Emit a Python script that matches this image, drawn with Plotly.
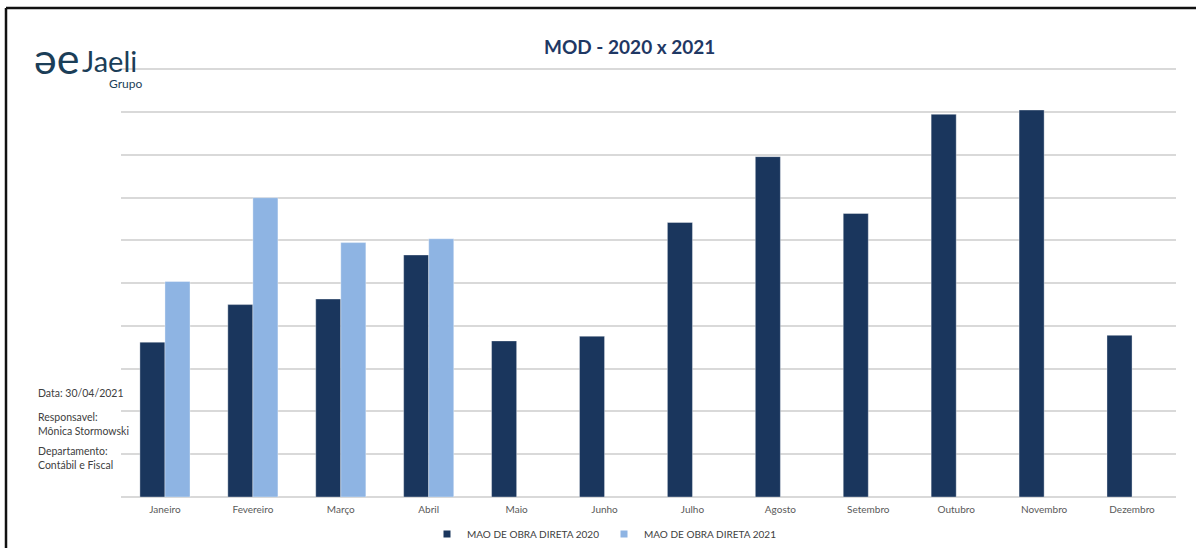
import plotly.graph_objects as go

# Monthly direct labour cost (MOD), in gridline units
meses = ["Janeiro", "Fevereiro", "Março", "Abril", "Maio", "Junho",
         "Julho", "Agosto", "Setembro", "Outubro", "Novembro", "Dezembro"]
mod_2020 = [3.62, 4.50, 4.63, 5.66, 3.65, 3.76, 6.42, 7.96, 6.63, 8.95, 9.05, 3.78]
mod_2021 = [5.04, 7.00, 5.95, 6.04, None, None, None, None, None, None, None, None]

serie_2020 = "MAO DE OBRA DIRETA 2020"
serie_2021 = "MAO DE OBRA DIRETA 2021"

COR_2020 = "#1a365d"
COR_2021 = "#8eb4e3"
FONTE = "Lato"

W, H = 1196, 548
Y_TOP = 10.15                      # a little headroom so the 10 gridline is drawn
L, R, B = 121, 1176, 497
UNIT = (B - 69.5) / 10             # pixels per gridline step
T = B - Y_TOP * UNIT


def px(x):
    return (x - L) / (R - L)


def py(y):
    return (B - y) / (B - T)


fig = go.Figure()
fig.add_trace(go.Bar(x=meses, y=mod_2020, name=serie_2020, showlegend=False,
                     marker=dict(color=COR_2020, line=dict(color="rgba(255,255,255,0.35)", width=1))))
fig.add_trace(go.Bar(x=meses, y=mod_2021, name=serie_2021, showlegend=False,
                     marker=dict(color=COR_2021, line=dict(color="rgba(255,255,255,0.35)", width=1))))

# legend entries with small square swatches
for nome, cor in [(serie_2020, COR_2020), (serie_2021, COR_2021)]:
    fig.add_trace(go.Scatter(x=[None], y=[None], mode="markers", name=nome,
                             marker=dict(symbol="square", size=7, color=cor)))

anotacoes = [
    dict(text="<b>MOD - 2020 x 2021</b>", x=px(629.5), y=py(47), xanchor="center", yanchor="middle",
         font=dict(family=FONTE, size=19, color="#1f3864")),
    dict(text="əe", x=px(81), y=py(58), xanchor="right", yanchor="middle",
         font=dict(family=FONTE, size=43, color="#1b3e58")),
    dict(text="Jaeli", x=px(80), y=py(61), xanchor="left", yanchor="middle",
         font=dict(family=FONTE, size=29, color="#1b3e58")),
    dict(text="Grupo", x=px(125), y=py(84), xanchor="center", yanchor="middle",
         font=dict(family=FONTE, size=12, color="#1b3e58")),
    dict(text="Data: 30/04/2021", x=px(36), y=py(393), xanchor="left", yanchor="middle",
         font=dict(family=FONTE, size=10.5, color="#404040")),
    dict(text="Responsavel:<br>Mônica Stormowski", x=px(36), y=py(424), xanchor="left", yanchor="middle",
         align="left", font=dict(family=FONTE, size=10.5, color="#404040")),
    dict(text="Departamento:<br>Contábil e Fiscal", x=px(36), y=py(458), xanchor="left", yanchor="middle",
         align="left", font=dict(family=FONTE, size=10.5, color="#404040")),
]
for a in anotacoes:
    a.update(xref="paper", yref="paper", showarrow=False)

fig.update_layout(
    width=W, height=H,
    margin=dict(l=L, r=W - R, t=T, b=H - B, pad=0, autoexpand=False),
    paper_bgcolor="white", plot_bgcolor="white",
    barmode="group", bargap=0.43, bargroupgap=0,
    font=dict(family=FONTE, size=10, color="#595959"),
    annotations=anotacoes,
    showlegend=True,
    legend=dict(orientation="h", x=px(427), y=py(534), xanchor="left", yanchor="middle",
                font=dict(family=FONTE, size=10, color="#404040"),
                itemwidth=30, entrywidth=132, entrywidthmode="pixels",
                bgcolor="rgba(0,0,0,0)"),
    shapes=[
        dict(type="line", xref="paper", yref="paper", x0=px(6), x1=px(W + 5), y0=py(8), y1=py(8),
             line=dict(color="#111111", width=2.5)),
        dict(type="line", xref="paper", yref="paper", x0=px(6), x1=px(6), y0=py(8), y1=py(H + 5),
             line=dict(color="#111111", width=2.5)),
    ],
)
fig.update_xaxes(showgrid=False, showline=False, ticks="", tickfont=dict(size=10, color="#595959"),
                 ticklabelstandoff=5, fixedrange=True, automargin=False)
fig.update_yaxes(range=[0, Y_TOP], dtick=1, showticklabels=False, showgrid=True,
                 gridcolor="#d9d9d9", gridwidth=1.5, zeroline=True, zerolinecolor="#d9d9d9",
                 zerolinewidth=1.5, showline=False, fixedrange=True, automargin=False)

fig.write_html("out.html")
